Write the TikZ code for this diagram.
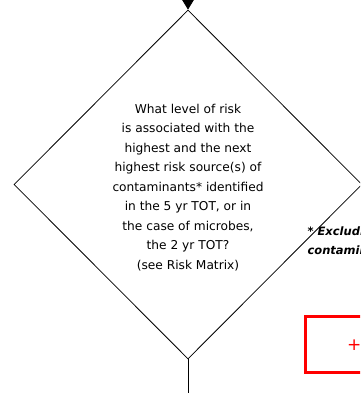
\documentclass[tikz,border=0pt]{standalone}
\usepackage{fontspec}
\setmainfont{DejaVu Sans}
\usepackage{tikz}
\usetikzlibrary{shapes.geometric,arrows.meta}

\tikzset{
  question/.style={diamond, draw=black, line width=0.8pt, inner sep=0pt,
    minimum width=348pt, minimum height=349pt},
  qtext/.style={align=center, inner sep=0pt,
    font=\fontsize{12.2}{19.5}\selectfont},
  flow/.style={black, line width=0.8pt},
  note/.style={anchor=west, font=\fontsize{11.5}{18}\selectfont\bfseries\itshape},
  keybox/.style={draw=red, line width=3pt}
}

\begin{document}
\begin{tikzpicture}[x=1pt,y=-1pt]
\useasboundingbox (0,0) rectangle (360,393);
\clip (0,0) rectangle (360,393);

\node [question] (risk) at (188,184.5) {};
\node [qtext] (risktext) at (188,187.5) {What level of risk\\
is associated with the\\
highest and the next\\
highest risk source(s) of\\
contaminants* identified\\
in the 5 yr TOT, or in\\
the case of microbes,\\
the 2 yr TOT?\\
(see Risk Matrix)};

\coordinate (intop) at (188,-2);
\coordinate (outbot) at (188,395);
\draw [flow, -{Triangle[width=12pt,length=10pt]}] (intop) -- (risk.north);
\draw [flow] (risk.south) -- (outbot);

\node [note] (foot1) at (304,232) {* Excluding};
\node [note] (foot2) at (304,250) {contaminants};

\node [keybox, anchor=north west, minimum width=110pt, minimum height=56pt] (plusbox) at (303.5,314.5) {};
\node [anchor=west, text=red, font=\fontsize{17}{17}\selectfont, inner sep=0pt] (plus) at (347,345) {+};
\end{tikzpicture}
\end{document}
